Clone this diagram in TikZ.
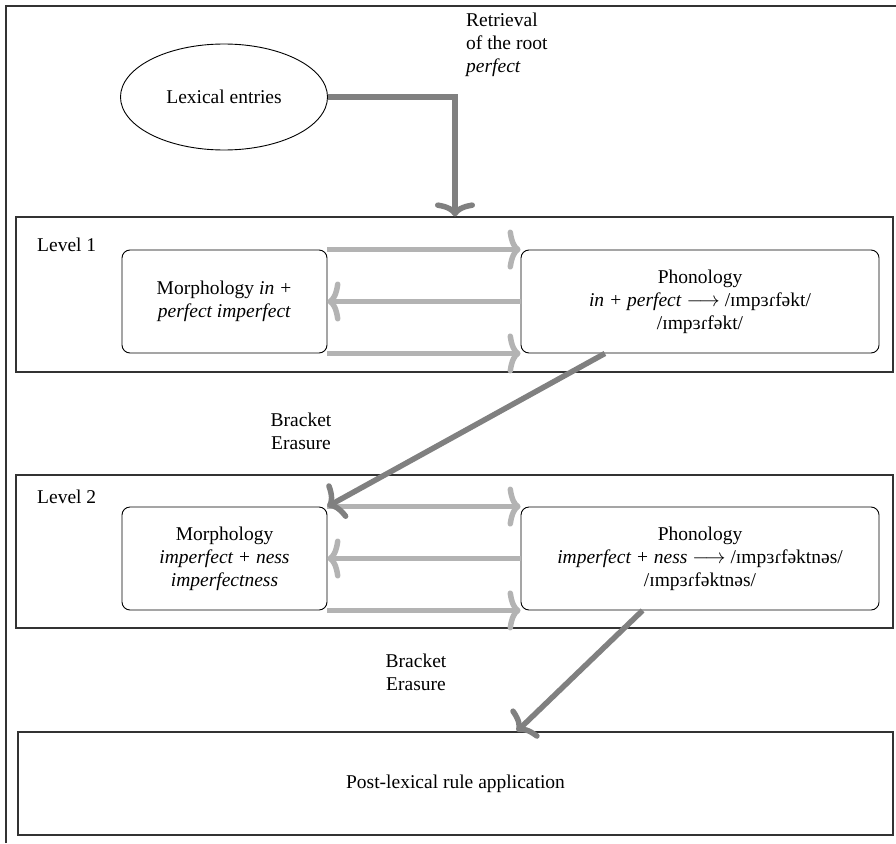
\documentclass[tikz,border=0pt]{standalone}
\usepackage{fontspec}
\setmainfont{Liberation Serif}
\usetikzlibrary{arrows.meta,calc,shapes.geometric}
\definecolor{darkarr}{HTML}{808080}
\definecolor{lightarr}{HTML}{B3B3B3}
\definecolor{framec}{HTML}{333333}
\tikzset{
  levelbox/.style={draw=framec, line width=1.2pt, inner sep=0pt},
  procbox/.style={draw=black, line width=0.9pt, rounded corners=8pt, align=center, minimum height=103pt, inner sep=2pt},
  darkarrow/.style={draw=darkarr, line width=5.5pt, -{Computer Modern Rightarrow[length=14pt,width=40pt]}},
  lightarrow/.style={draw=lightarr, line width=5.5pt, -{Computer Modern Rightarrow[length=13pt,width=40pt]}},
  labeltext/.style={inner sep=0pt},
}
\begin{document}
\begin{tikzpicture}[x=1pt,y=-1pt,font=\fontsize{19.5}{23}\selectfont]
\useasboundingbox (0,0) rectangle (896,843);
% outer (cropped) frame
\draw[framec, line width=1.2pt] (6,843) -- (6,6) -- (896,6);

% lexical entries
\node[draw=black, line width=0.9pt, ellipse, minimum width=207pt, minimum height=106pt, inner sep=0pt] (lex) at (224,97) {Lexical entries};
\node[labeltext, align=left, anchor=west] (ret) at (466,45) {Retrieval\\of the root\\\textit{perfect}};

% level boxes
\node[levelbox, minimum width=877pt, minimum height=155pt] (lvl1) at (454.5,294.5) {};
\node[levelbox, minimum width=877pt, minimum height=153pt] (lvl2) at (454.5,551.5) {};
\node[levelbox, minimum width=875pt, minimum height=103pt] (post) at (455.5,783.5) {Post-lexical rule application};

\node[labeltext, anchor=west] (lab1) at (37,245) {Level 1};
\node[labeltext, anchor=west] (lab2) at (37,497) {Level 2};

% level 1 process boxes
\node[procbox, minimum width=205pt] (morph1) at (224.5,301.5) {Morphology \textit{in +}\\\textit{perfect imperfect}};
\node[procbox, minimum width=358pt] (phon1) at (700,301.5) {Phonology\\\textit{in + perfect} $\longrightarrow$ /ɪmpɜɾfəkt/\\/ɪmpɜɾfəkt/};

% level 2 process boxes
\node[procbox, minimum width=205pt] (morph2) at (224.5,558.5) {Morphology\\\textit{imperfect + ness}\\\textit{imperfectness}};
\node[procbox, minimum width=358pt] (phon2) at (700,558.5) {Phonology\\\textit{imperfect + ness} $\longrightarrow$ /ɪmpɜɾfəktnəs/\\/ɪmpɜɾfəktnəs/};

% retrieval arrow
\coordinate (corner) at (455,97);
\draw[darkarrow] (lex.east) -- (corner) -- (corner |- lvl1.north);

% level 1 arrows
\draw[lightarrow] (morph1.north east) -- (phon1.north west);
\draw[lightarrow] (phon1.west) -- (morph1.east);
\draw[lightarrow] (morph1.south east) -- (phon1.south west);

% level 2 arrows
\draw[lightarrow] (morph2.north east) -- (phon2.north west);
\draw[lightarrow] (phon2.west) -- (morph2.east);
\draw[lightarrow] (morph2.south east) -- (phon2.south west);

% bracket erasure arrows
\coordinate (be1start) at ($(phon1.south west)!0.235!(phon1.south east)$);
\draw[darkarrow] (be1start) -- (morph2.north east);
\node[labeltext, align=center] (be1) at (301,431) {Bracket\\Erasure};

\coordinate (be2start) at ($(phon2.south west)!0.34!(phon2.south east)$);
\coordinate (be2end) at ($(post.north west)!0.57!(post.north east)$);
\draw[darkarrow] (be2start) -- (be2end);
\node[labeltext, align=center] (be2) at (416,672) {Bracket\\Erasure};
\end{tikzpicture}
\end{document}
